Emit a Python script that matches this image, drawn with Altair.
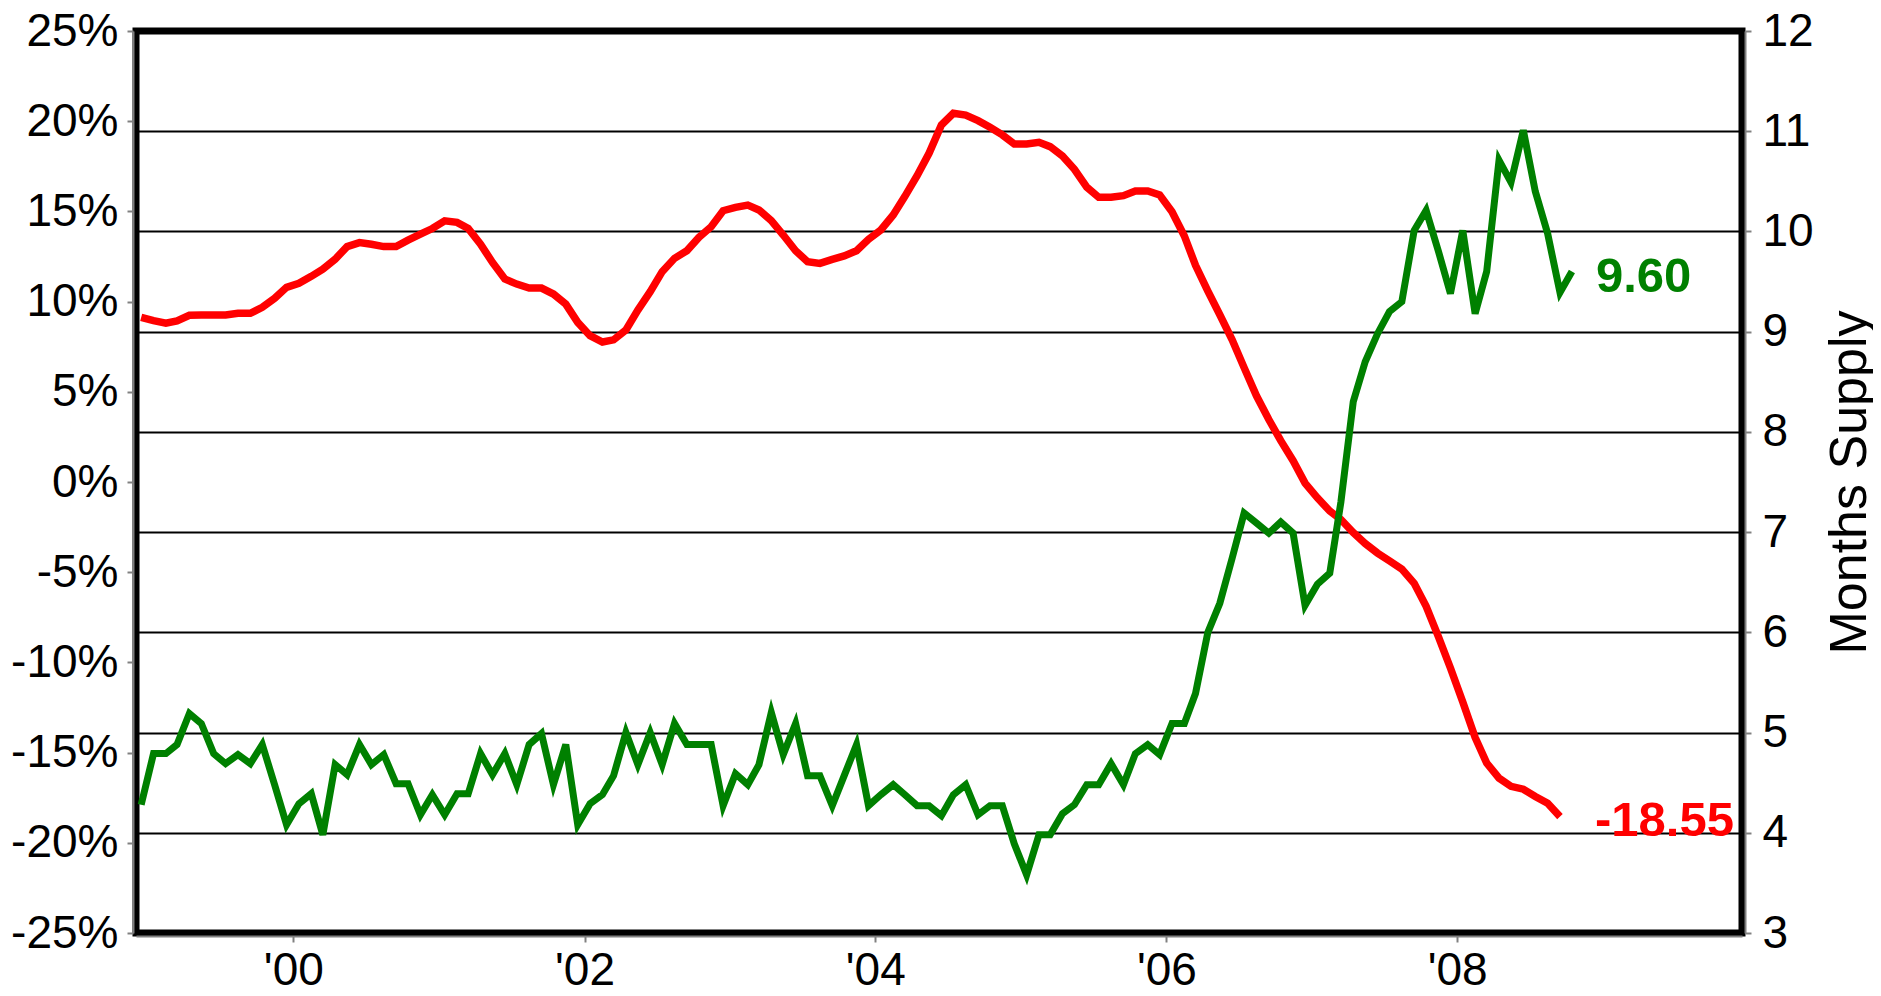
import altair as alt
import pandas as pd

FONT = "Liberation Sans"

# monthly series, first month = Dec 1998
start_year, start_month = 1998, 12

price_yoy = [
    9.13, 8.94, 8.80, 8.93, 9.24, 9.26, 9.26, 9.26, 9.35, 9.35, 9.68, 10.18,
    10.79, 11.01, 11.40, 11.80, 12.35, 13.05, 13.27, 13.18, 13.05, 13.05, 13.41, 13.74,
    14.05, 14.48, 14.39, 14.05, 13.18, 12.17, 11.25, 10.97, 10.75, 10.75, 10.42, 9.86,
    8.85, 8.11, 7.76, 7.88, 8.43, 9.53, 10.55, 11.66, 12.40, 12.82, 13.56, 14.15,
    15.04, 15.22, 15.35, 15.08, 14.49, 13.69, 12.82, 12.21, 12.12, 12.34, 12.53, 12.82,
    13.45, 13.97, 14.80, 15.82, 16.98, 18.22, 19.79, 20.44, 20.34, 20.03, 19.66, 19.24,
    18.74, 18.74, 18.83, 18.59, 18.07, 17.33, 16.34, 15.78, 15.78, 15.87, 16.13, 16.13,
    15.91, 14.98, 13.64, 12.01, 10.58, 9.27, 7.88, 6.34, 4.78, 3.46, 2.29, 1.18,
    -0.06, -0.88, -1.61, -2.08, -2.80, -3.41, -3.94, -4.37, -4.83, -5.62, -6.89, -8.58,
    -10.31, -12.19, -14.16, -15.58, -16.42, -16.87, -17.03, -17.43, -17.81, -18.55,
]

months_supply = [
    4.28, 4.79, 4.79, 4.88, 5.19, 5.09, 4.79, 4.69, 4.78, 4.69, 4.88, 4.48,
    4.08, 4.29, 4.39, 3.98, 4.68, 4.58, 4.88, 4.68, 4.78, 4.49, 4.49, 4.18,
    4.38, 4.18, 4.39, 4.39, 4.79, 4.58, 4.79, 4.48, 4.88, 4.99, 4.48, 4.88,
    4.08, 4.29, 4.38, 4.57, 5.00, 4.68, 5.00, 4.68, 5.09, 4.88, 4.88, 4.88,
    4.27, 4.59, 4.48, 4.68, 5.20, 4.78, 5.09, 4.57, 4.57, 4.27, 4.57, 4.88,
    4.27, 4.38, 4.48, 4.38, 4.27, 4.27, 4.17, 4.38, 4.48, 4.18, 4.27, 4.27,
    3.89, 3.58, 3.98, 3.98, 4.19, 4.28, 4.48, 4.48, 4.69, 4.48, 4.79, 4.88,
    4.78, 5.09, 5.09, 5.39, 6.00, 6.29, 6.74, 7.19, 7.09, 6.99, 7.10, 6.99,
    6.27, 6.48, 6.59, 7.30, 8.30, 8.70, 8.98, 9.20, 9.30, 10.01, 10.21, 9.80,
    9.38, 10.01, 9.18, 9.60, 10.71, 10.49, 11.01, 10.40, 9.98, 9.39, 9.60,
]

pct_ticks = [-25, -20, -15, -10, -5, 0, 5, 10, 15, 20, 25]
supply_ticks = [3, 4, 5, 6, 7, 8, 9, 10, 11, 12]
year_ticks = [2000, 2002, 2004, 2006, 2008]


def month_str(i):
    m = start_month - 1 + i
    y = start_year + m // 12
    mo = m % 12 + 1
    return f"{y:04d}-{mo:02d}-15"


red_df = pd.DataFrame({"date": [month_str(i) for i in range(len(price_yoy))],
                       "value": price_yoy})
green_df = pd.DataFrame({"date": [month_str(i) for i in range(len(months_supply))],
                         "value": months_supply})
red_last = red_df.tail(1)
green_last = green_df.tail(1)

x_scale = alt.Scale(
    type="utc",
    domain=[alt.DateTime(year=1998, month=12, date=2, utc=True),
            alt.DateTime(year=2009, month=12, date=16, utc=True)],
)

axis_common = dict(
    labelFont=FONT, labelFontSize=46, labelColor="black",
    domainColor="#808080", domainWidth=2, offset=3,
    tickColor="#808080", tickWidth=2, tickSize=6,
)

x_enc = alt.X(
    "date:T", scale=x_scale,
    axis=alt.Axis(
        values=[alt.DateTime(year=y, month=1, date=1, utc=True) for y in year_ticks],
        format="'%y", title=None, grid=False, labelPadding=6, **axis_common,
    ),
)

left_y = alt.Y(
    "value:Q", scale=alt.Scale(domain=[-25, 25], nice=False, zero=False),
    axis=alt.Axis(values=pct_ticks, labelExpr="datum.value + '%'",
                  title=None, grid=False, orient="left",
                  labelPadding=9, **axis_common),
)
right_y = alt.Y(
    "value:Q", scale=alt.Scale(domain=[3, 12], nice=False, zero=False),
    axis=alt.Axis(values=supply_ticks, orient="right",
                  grid=True, gridColor="black", gridWidth=2,
                  title="Months Supply", titleFont=FONT,
                  titleFontSize=52, titleFontWeight="normal",
                  titleColor="black", titleAngle=270,
                  titleAlign="center", titleBaseline="alphabetic",
                  titleX=120, titleY=451,
                  labelPadding=11, **axis_common),
)

label_expr = "(datum.value < 0 ? '-' : '') + format(abs(datum.value), '.2f')"

red_line = alt.Chart(red_df).mark_line(color="#FF0000", strokeWidth=7.5).encode(
    x=x_enc, y=left_y,
)
red_label = alt.Chart(red_last).transform_calculate(
    lab=label_expr
).mark_text(
    color="#FF0000", font=FONT, fontSize=49, fontWeight="bold",
    align="left", baseline="alphabetic", dx=35, dy=19,
).encode(x=x_enc, y=left_y, text="lab:N")

green_line = alt.Chart(green_df).mark_line(color="#008000", strokeWidth=7).encode(
    x=x_enc, y=right_y,
)
green_label = alt.Chart(green_last).transform_calculate(
    lab=label_expr
).mark_text(
    color="#008000", font=FONT, fontSize=49, fontWeight="bold",
    align="left", baseline="alphabetic", dx=24, dy=20,
).encode(x=x_enc, y=right_y, text="lab:N")

chart = alt.layer(
    alt.layer(red_line, red_label),
    alt.layer(green_line, green_label),
).resolve_scale(y="independent").properties(
    width=1606, height=902,
    padding={"left": 128, "top": 23, "right": 131, "bottom": 55},
    autosize=alt.AutoSizeParams(type="none"),
).configure_view(
    stroke="black", strokeWidth=7,
)

chart.save("out.html", embed_options={"renderer": "svg", "actions": False})
